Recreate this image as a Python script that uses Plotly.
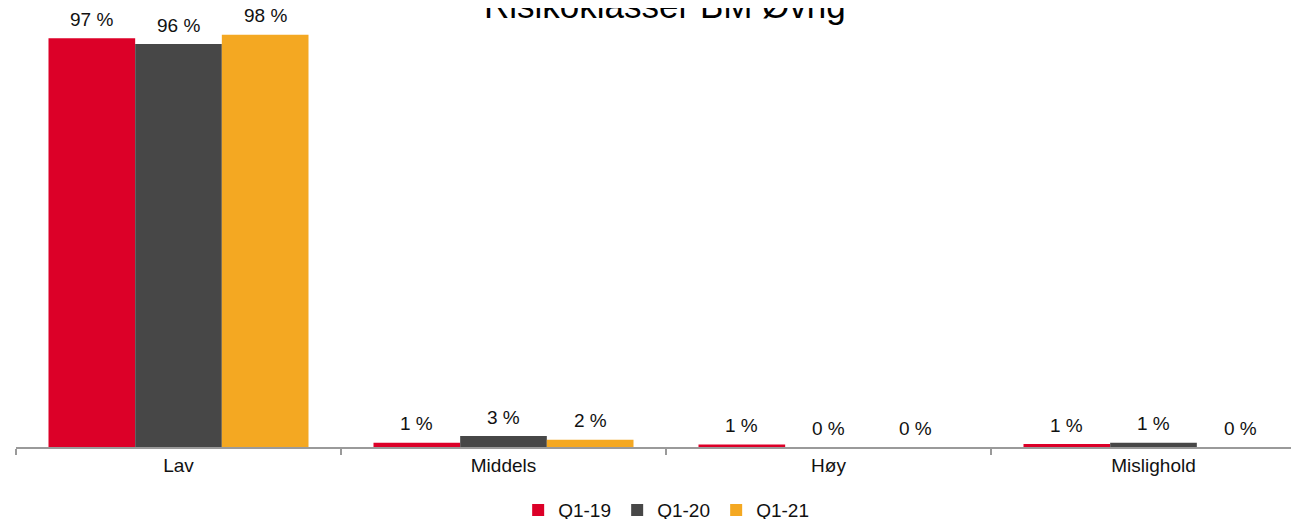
import plotly.graph_objects as go

categories = ["Lav", "Middels", "Høy", "Mislighold"]
series_names = ["Q1-19", "Q1-20", "Q1-21"]
q1_19 = [97.1, 1.0, 0.6, 0.7]
q1_20 = [95.7, 2.6, 0.0, 1.0]
q1_21 = [97.9, 1.7, 0.0, 0.0]
colors = ["#DC0028", "#474747", "#F4A822"]

FONT = "Arial, Liberation Sans, sans-serif"
BAR_PX = 325 * 0.8 / 3
PLOT_W = 1299 - 8  # page body adds an 8px offset

fig = go.Figure()
annotations = []
for i, (name, vals) in enumerate(zip(series_names, [q1_19, q1_20, q1_21])):
    fig.add_trace(go.Bar(
        name=name,
        x=categories,
        y=vals,
        marker=dict(color=colors[i], line=dict(width=0)),
        hoverinfo="x+y+name",
    ))
    for cat, v in zip(categories, vals):
        annotations.append(dict(
            x=cat, y=v, xref="x", yref="y",
            text=f"{v:.0f} %", showarrow=False,
            xshift=(i - 1) * BAR_PX, yshift=19, yanchor="middle",
            font=dict(size=19, color="#111111", family=FONT),
        ))

# title sits partly above the top edge, as in the reference crop
annotations.append(dict(
    x=0.503, y=1.0, xref="paper", yref="paper",
    text="Risikoklasser BM Øvrig", showarrow=False,
    yanchor="bottom", yshift=-1,
    font=dict(size=35, color="#000000", family=FONT),
))

fig.update_layout(
    width=1299,
    height=519,
    paper_bgcolor="white",
    plot_bgcolor="white",
    font=dict(family=FONT, size=19, color="#111111"),
    margin=dict(l=8, r=0, t=18, b=80, autoexpand=False),
    barmode="group",
    bargap=0.2,
    bargroupgap=0,
    xaxis=dict(
        type="category",
        range=[-0.5, -0.5 + PLOT_W / 325],
        showline=True, linecolor="#9a9a9a", linewidth=1.5,
        ticks="outside", tickson="boundaries", ticklen=6,
        tickcolor="#9a9a9a", tickwidth=1.5,
        showgrid=False, zeroline=False,
        tickfont=dict(size=19, color="#111111"),
    ),
    yaxis=dict(range=[0, 100], visible=False, showgrid=False, zeroline=False),
    legend=dict(
        orientation="h", x=0.504, xanchor="center", y=-0.15, yanchor="middle",
        font=dict(size=19), itemwidth=30, entrywidth=54,
    ),
    annotations=annotations,
)

fig.write_html("out.html")
